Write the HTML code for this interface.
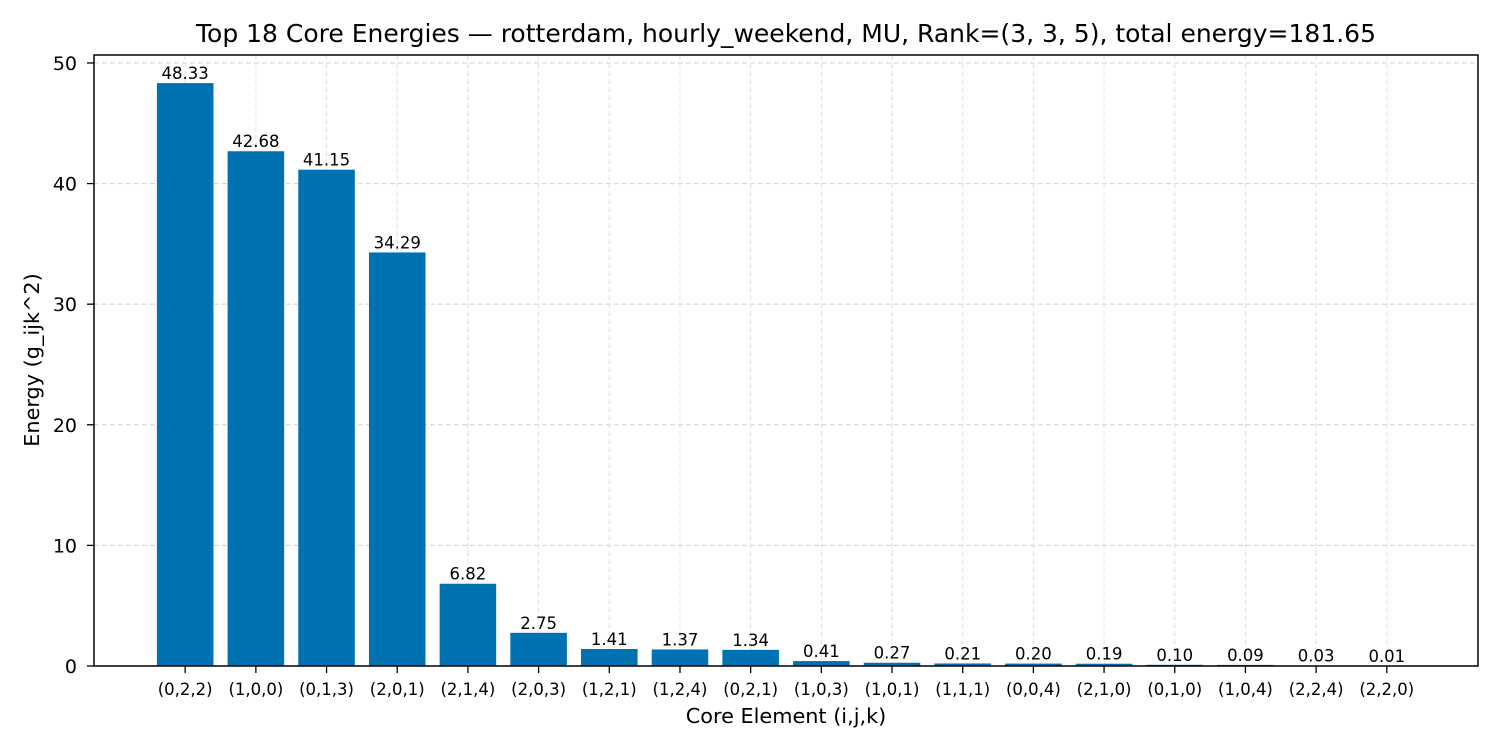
<!DOCTYPE html>
<html><head><meta charset="utf-8"><style>
body{margin:0;background:#fff;}
svg text{font-family:"DejaVu Sans","Liberation Sans",sans-serif;fill:#000;}
</style></head><body>
<svg id="chart" width="1500" height="750" xmlns="http://www.w3.org/2000/svg">
<rect width="1500" height="750" fill="#fff"/>
<g id="grid"></g><g id="bars"></g><g id="axes"></g>
<text x="786" y="42" font-size="25" text-anchor="middle">Top 18 Core Energies — rotterdam, hourly_weekend, MU, Rank=(3, 3, 5), total energy=181.65</text>
<text x="786" y="723" font-size="20.8" text-anchor="middle">Core Element (i,j,k)</text>
<text transform="translate(39,360) rotate(-90)" font-size="20.8" text-anchor="middle">Energy (g_ijk^2)</text>
</svg>
<script>
const categories=["(0,2,2)","(1,0,0)","(0,1,3)","(2,0,1)","(2,1,4)","(2,0,3)","(1,2,1)","(1,2,4)","(0,2,1)","(1,0,3)","(1,0,1)","(1,1,1)","(0,0,4)","(2,1,0)","(0,1,0)","(1,0,4)","(2,2,4)","(2,2,0)"];
const values=[48.33,42.68,41.15,34.29,6.82,2.75,1.41,1.37,1.34,0.41,0.27,0.21,0.20,0.19,0.10,0.09,0.03,0.01];
const yTicks=[0,10,20,30,40,50];
const NS="http://www.w3.org/2000/svg";
const L=94,R=1478,T=55,B=666;
const xMin=-1.29,xMax=categories.length-1+1.29;
const yMax=50.66;
const xs=i=>L+(i-xMin)/(xMax-xMin)*(R-L);
const ys=v=>B-v/yMax*(B-T);
const step=xs(1)-xs(0),bw=step*0.8;
function mk(tag,attrs,parent,txt){const e=document.createElementNS(NS,tag);for(const k in attrs)e.setAttribute(k,attrs[k]);if(txt!==undefined)e.textContent=txt;document.getElementById(parent).appendChild(e);return e;}
yTicks.forEach(t=>{
 const g=mk('line',{x1:L,x2:R,y1:ys(t),y2:ys(t),stroke:'#d0d0d0','stroke-dasharray':'5,3','stroke-width':1},'grid');
 
 
 const tk=mk('line',{x1:L-7,x2:L,y1:ys(t),y2:ys(t),stroke:'#000','stroke-width':1.3},'axes');
 
 
 const tl=mk('text',{x:L-17,y:ys(t)+7,'font-size':19,'text-anchor':'end'},'axes',t);
 
 
});
categories.forEach((c,i)=>{
 const x=xs(i);
 const g=mk('line',{x1:x,x2:x,y1:T,y2:B,stroke:'#e0e0e0','stroke-dasharray':'5,3','stroke-width':1},'grid');
 
 
 const r=mk('rect',{x:x-bw/2,y:ys(values[i]),width:bw,height:B-ys(values[i]),fill:'#0072b2'},'bars');
 
 
 const v=mk('text',{x:x,y:ys(values[i])-4,'font-size':16.5,'text-anchor':'middle'},'bars',values[i].toFixed(2));
 
 
 const tk=mk('line',{x1:x,x2:x,y1:B,y2:B+7,stroke:'#000','stroke-width':1.3},'axes');
 
 
 const tl=mk('text',{x:x,y:B+29,'font-size':16.5,'text-anchor':'middle'},'axes',c);
 
 
});
const f=mk('rect',{x:L,y:T,width:R-L,height:B-T,fill:'none',stroke:'#000','stroke-width':1.5},'axes');


</script>
</body></html>
